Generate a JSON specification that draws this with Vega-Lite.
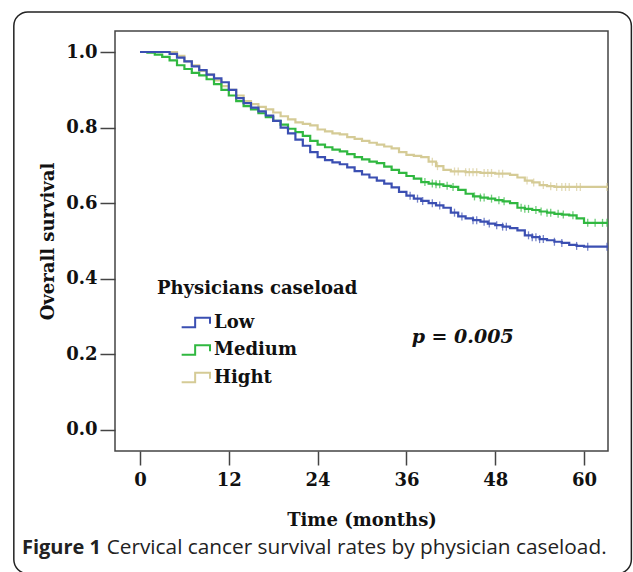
{
  "$schema": "https://vega.github.io/schema/vega-lite/v6.json",
  "width": 493,
  "height": 420,
  "autosize": {"type": "none"},
  "padding": {"left": 115, "top": 31, "right": 25, "bottom": 121},
  "background": "white",
  "config": {
    "view": {"stroke": "#444", "strokeWidth": 1.5},
    "axis": {"grid": false, "domain": false, "tickColor": "#444", "tickWidth": 1.5,
      "labelFont": "DejaVu Serif", "labelFontWeight": "bold", "labelFontSize": 18, "labelColor": "#111",
      "titleFont": "DejaVu Serif", "titleFontWeight": "bold", "titleFontSize": 18, "titleColor": "#111"}
  },
  "datasets": {
    "curves": [
      {"g":"Hight","t":0,"s":1.0},{"g":"Hight","t":4,"s":1.0},{"g":"Hight","t":5,"s":0.99},{"g":"Hight","t":6,"s":0.975},{"g":"Hight","t":7,"s":0.965},{"g":"Hight","t":8,"s":0.95},{"g":"Hight","t":9,"s":0.94},{"g":"Hight","t":10,"s":0.925},{"g":"Hight","t":11,"s":0.91},{"g":"Hight","t":12,"s":0.9},{"g":"Hight","t":13,"s":0.885},{"g":"Hight","t":14,"s":0.87},{"g":"Hight","t":15,"s":0.862},{"g":"Hight","t":16,"s":0.855},{"g":"Hight","t":17,"s":0.848},{"g":"Hight","t":18,"s":0.84},{"g":"Hight","t":19,"s":0.83},{"g":"Hight","t":20,"s":0.822},{"g":"Hight","t":21,"s":0.814},{"g":"Hight","t":22,"s":0.81},{"g":"Hight","t":23,"s":0.806},{"g":"Hight","t":24,"s":0.795},{"g":"Hight","t":25,"s":0.79},{"g":"Hight","t":26,"s":0.785},{"g":"Hight","t":27,"s":0.782},{"g":"Hight","t":28,"s":0.775},{"g":"Hight","t":29,"s":0.77},{"g":"Hight","t":30,"s":0.765},{"g":"Hight","t":31,"s":0.76},{"g":"Hight","t":32,"s":0.755},{"g":"Hight","t":33,"s":0.75},{"g":"Hight","t":34,"s":0.745},{"g":"Hight","t":35,"s":0.735},{"g":"Hight","t":36,"s":0.728},{"g":"Hight","t":37,"s":0.725},{"g":"Hight","t":38,"s":0.722},{"g":"Hight","t":39,"s":0.71},{"g":"Hight","t":40,"s":0.698},{"g":"Hight","t":41,"s":0.688},{"g":"Hight","t":42,"s":0.684},{"g":"Hight","t":44,"s":0.682},{"g":"Hight","t":46,"s":0.68},{"g":"Hight","t":48,"s":0.678},{"g":"Hight","t":50,"s":0.675},{"g":"Hight","t":51,"s":0.668},{"g":"Hight","t":52,"s":0.66},{"g":"Hight","t":53,"s":0.655},{"g":"Hight","t":54,"s":0.648},{"g":"Hight","t":55,"s":0.645},{"g":"Hight","t":56,"s":0.643},{"g":"Hight","t":63.24,"s":0.643},
      {"g":"Medium","t":0,"s":1.0},{"g":"Medium","t":1,"s":0.998},{"g":"Medium","t":2,"s":0.993},{"g":"Medium","t":3,"s":0.987},{"g":"Medium","t":4,"s":0.978},{"g":"Medium","t":5,"s":0.965},{"g":"Medium","t":6,"s":0.955},{"g":"Medium","t":7,"s":0.945},{"g":"Medium","t":8,"s":0.938},{"g":"Medium","t":9,"s":0.928},{"g":"Medium","t":10,"s":0.915},{"g":"Medium","t":11,"s":0.9},{"g":"Medium","t":12,"s":0.885},{"g":"Medium","t":13,"s":0.87},{"g":"Medium","t":14,"s":0.857},{"g":"Medium","t":15,"s":0.848},{"g":"Medium","t":16,"s":0.838},{"g":"Medium","t":17,"s":0.828},{"g":"Medium","t":18,"s":0.818},{"g":"Medium","t":19,"s":0.808},{"g":"Medium","t":20,"s":0.797},{"g":"Medium","t":21,"s":0.788},{"g":"Medium","t":22,"s":0.778},{"g":"Medium","t":23,"s":0.765},{"g":"Medium","t":24,"s":0.755},{"g":"Medium","t":25,"s":0.748},{"g":"Medium","t":26,"s":0.742},{"g":"Medium","t":27,"s":0.737},{"g":"Medium","t":28,"s":0.73},{"g":"Medium","t":29,"s":0.722},{"g":"Medium","t":30,"s":0.716},{"g":"Medium","t":31,"s":0.71},{"g":"Medium","t":32,"s":0.706},{"g":"Medium","t":33,"s":0.697},{"g":"Medium","t":34,"s":0.688},{"g":"Medium","t":35,"s":0.68},{"g":"Medium","t":36,"s":0.672},{"g":"Medium","t":37,"s":0.665},{"g":"Medium","t":38,"s":0.656},{"g":"Medium","t":39,"s":0.652},{"g":"Medium","t":40,"s":0.65},{"g":"Medium","t":41,"s":0.646},{"g":"Medium","t":42,"s":0.643},{"g":"Medium","t":43,"s":0.635},{"g":"Medium","t":44,"s":0.625},{"g":"Medium","t":45,"s":0.618},{"g":"Medium","t":46,"s":0.615},{"g":"Medium","t":47,"s":0.612},{"g":"Medium","t":48,"s":0.608},{"g":"Medium","t":49,"s":0.605},{"g":"Medium","t":50,"s":0.6},{"g":"Medium","t":51,"s":0.588},{"g":"Medium","t":52,"s":0.585},{"g":"Medium","t":53,"s":0.582},{"g":"Medium","t":54,"s":0.578},{"g":"Medium","t":55,"s":0.575},{"g":"Medium","t":56,"s":0.572},{"g":"Medium","t":57,"s":0.57},{"g":"Medium","t":58,"s":0.568},{"g":"Medium","t":59,"s":0.56},{"g":"Medium","t":60,"s":0.548},{"g":"Medium","t":63.24,"s":0.548},
      {"g":"Low","t":0,"s":1.0},{"g":"Low","t":3,"s":1.0},{"g":"Low","t":4,"s":0.995},{"g":"Low","t":5,"s":0.985},{"g":"Low","t":6,"s":0.975},{"g":"Low","t":7,"s":0.962},{"g":"Low","t":8,"s":0.952},{"g":"Low","t":9,"s":0.94},{"g":"Low","t":10,"s":0.93},{"g":"Low","t":11,"s":0.92},{"g":"Low","t":12,"s":0.9},{"g":"Low","t":13,"s":0.878},{"g":"Low","t":14,"s":0.865},{"g":"Low","t":15,"s":0.853},{"g":"Low","t":16,"s":0.843},{"g":"Low","t":17,"s":0.832},{"g":"Low","t":18,"s":0.818},{"g":"Low","t":19,"s":0.8},{"g":"Low","t":20,"s":0.785},{"g":"Low","t":21,"s":0.768},{"g":"Low","t":22,"s":0.752},{"g":"Low","t":23,"s":0.735},{"g":"Low","t":24,"s":0.722},{"g":"Low","t":25,"s":0.714},{"g":"Low","t":26,"s":0.708},{"g":"Low","t":27,"s":0.703},{"g":"Low","t":28,"s":0.695},{"g":"Low","t":29,"s":0.685},{"g":"Low","t":30,"s":0.676},{"g":"Low","t":31,"s":0.668},{"g":"Low","t":32,"s":0.66},{"g":"Low","t":33,"s":0.652},{"g":"Low","t":34,"s":0.642},{"g":"Low","t":35,"s":0.63},{"g":"Low","t":36,"s":0.62},{"g":"Low","t":37,"s":0.612},{"g":"Low","t":38,"s":0.606},{"g":"Low","t":39,"s":0.6},{"g":"Low","t":40,"s":0.594},{"g":"Low","t":41,"s":0.588},{"g":"Low","t":42,"s":0.575},{"g":"Low","t":43,"s":0.565},{"g":"Low","t":44,"s":0.56},{"g":"Low","t":45,"s":0.555},{"g":"Low","t":46,"s":0.551},{"g":"Low","t":47,"s":0.546},{"g":"Low","t":48,"s":0.542},{"g":"Low","t":49,"s":0.538},{"g":"Low","t":50,"s":0.534},{"g":"Low","t":51,"s":0.528},{"g":"Low","t":52,"s":0.515},{"g":"Low","t":53,"s":0.51},{"g":"Low","t":54,"s":0.505},{"g":"Low","t":55,"s":0.502},{"g":"Low","t":56,"s":0.498},{"g":"Low","t":57,"s":0.495},{"g":"Low","t":58,"s":0.49},{"g":"Low","t":59,"s":0.487},{"g":"Low","t":60,"s":0.485},{"g":"Low","t":63.24,"s":0.485}
    ],
    "censor": [
      {"g":"Hight","t":39.5,"s":0.71},{"g":"Hight","t":40.2,"s":0.698},{"g":"Hight","t":42.5,"s":0.684},{"g":"Hight","t":43,"s":0.684},{"g":"Hight","t":44,"s":0.682},{"g":"Hight","t":44.5,"s":0.682},{"g":"Hight","t":45,"s":0.682},{"g":"Hight","t":45.5,"s":0.682},{"g":"Hight","t":46.5,"s":0.68},{"g":"Hight","t":47,"s":0.68},{"g":"Hight","t":47.5,"s":0.68},{"g":"Hight","t":48.5,"s":0.678},{"g":"Hight","t":49,"s":0.678},{"g":"Hight","t":52.3,"s":0.66},{"g":"Hight","t":53.2,"s":0.655},{"g":"Hight","t":54.5,"s":0.648},{"g":"Hight","t":55.5,"s":0.645},{"g":"Hight","t":56.3,"s":0.643},{"g":"Hight","t":57,"s":0.643},{"g":"Hight","t":57.5,"s":0.643},{"g":"Hight","t":58,"s":0.643},{"g":"Hight","t":59,"s":0.643},{"g":"Hight","t":59.5,"s":0.643},{"g":"Hight","t":63.1,"s":0.643},
      {"g":"Medium","t":38.5,"s":0.656},{"g":"Medium","t":39.5,"s":0.652},{"g":"Medium","t":40,"s":0.65},{"g":"Medium","t":40.5,"s":0.65},{"g":"Medium","t":41.5,"s":0.646},{"g":"Medium","t":42.3,"s":0.643},{"g":"Medium","t":45.2,"s":0.618},{"g":"Medium","t":46,"s":0.615},{"g":"Medium","t":46.5,"s":0.615},{"g":"Medium","t":47.5,"s":0.612},{"g":"Medium","t":48.5,"s":0.608},{"g":"Medium","t":49.2,"s":0.605},{"g":"Medium","t":51.5,"s":0.588},{"g":"Medium","t":52,"s":0.585},{"g":"Medium","t":52.5,"s":0.585},{"g":"Medium","t":53.5,"s":0.582},{"g":"Medium","t":54.2,"s":0.578},{"g":"Medium","t":55,"s":0.575},{"g":"Medium","t":55.5,"s":0.575},{"g":"Medium","t":56.5,"s":0.572},{"g":"Medium","t":57.2,"s":0.57},{"g":"Medium","t":58.5,"s":0.568},{"g":"Medium","t":60.5,"s":0.548},{"g":"Medium","t":61.5,"s":0.548},{"g":"Medium","t":62.5,"s":0.548},{"g":"Medium","t":63.1,"s":0.548},
      {"g":"Low","t":36.5,"s":0.62},{"g":"Low","t":37.5,"s":0.612},{"g":"Low","t":38.2,"s":0.606},{"g":"Low","t":39.5,"s":0.6},{"g":"Low","t":40.5,"s":0.594},{"g":"Low","t":42.5,"s":0.575},{"g":"Low","t":43.5,"s":0.565},{"g":"Low","t":45,"s":0.555},{"g":"Low","t":45.5,"s":0.555},{"g":"Low","t":46.5,"s":0.551},{"g":"Low","t":47.2,"s":0.546},{"g":"Low","t":48.2,"s":0.542},{"g":"Low","t":49,"s":0.538},{"g":"Low","t":49.5,"s":0.538},{"g":"Low","t":52.5,"s":0.515},{"g":"Low","t":53,"s":0.51},{"g":"Low","t":53.5,"s":0.51},{"g":"Low","t":54,"s":0.505},{"g":"Low","t":54.5,"s":0.505},{"g":"Low","t":56,"s":0.498},{"g":"Low","t":57,"s":0.495},{"g":"Low","t":59,"s":0.487},{"g":"Low","t":60.5,"s":0.485},{"g":"Low","t":63.1,"s":0.485}
    ],
    "notes": [
      {"label":"p = 0.005","t":43.6,"s":0.246},
      {"label":"Figure 1","t":-15.95,"s":-0.312},
      {"label":"Cervical cancer survival rates by physician caseload.","t":-4.5,"s":-0.312}
    ]
  },
  "layer": [
    {
      "data": {"values": [{}]},
      "mark": {"type": "rect", "clip": false, "fill": null, "fillOpacity": 0, "stroke": "#222", "strokeWidth": 1.5, "cornerRadius": 14},
      "encoding": {
        "x": {"datum": -17.05, "type": "quantitative", "scale": {"domain": [-3.378, 63.24], "nice": false, "zero": false}},
        "x2": {"datum": 66.4},
        "y": {"datum": 1.106, "type": "quantitative"},
        "y2": {"datum": -0.38}
      }
    },
    {
      "data": {"name": "curves"},
      "mark": {"type": "line", "interpolate": "step-after", "strokeWidth": 2.2},
      "encoding": {
        "x": {"field": "t", "type": "quantitative", "scale": {"domain": [-3.378, 63.24], "nice": false, "zero": false},
          "axis": {"values": [0, 12, 24, 36, 48, 60], "tickSize": 14, "labelPadding": 6, "title": "Time (months)", "titlePadding": 22}},
        "y": {"field": "s", "type": "quantitative", "scale": {"domain": [-0.0556, 1.0556], "nice": false, "zero": false},
          "axis": {"values": [0, 0.2, 0.4, 0.6, 0.8, 1.0], "format": ".1f", "tickSize": 15, "labelPadding": 3, "title": "Overall survival", "titlePadding": 8}},
        "color": {"field": "g", "type": "nominal",
          "scale": {"domain": ["Low", "Medium", "Hight"], "range": ["#3b4fb2", "#30b840", "#d5cb96"]},
          "legend": {"orient": "none", "legendX": 42, "legendY": 249, "title": "Physicians caseload", "titleLimit": 400,
            "titleFont": "DejaVu Serif", "titleFontSize": 18, "titleFontWeight": "bold", "titleColor": "#111", "titlePadding": 10,
            "labelFont": "DejaVu Serif", "labelFontSize": 18, "labelFontWeight": "bold", "labelColor": "#111", "labelLimit": 300,
            "symbolType": "M -1.1 0.35 H -0.1 V -0.35 H 1.0 V 0.1", "symbolSize": 729, "symbolStrokeWidth": 2,
            "symbolOffset": 25, "labelOffset": 3, "rowPadding": 3.5,
            "encode": {"symbols": {"update": {"fill": {"value": "transparent"}, "fillOpacity": {"value": 0}}}}}}
      }
    },
    {
      "data": {"name": "censor"},
      "mark": {"type": "tick", "orient": "vertical", "size": 8, "thickness": 1.3},
      "encoding": {
        "x": {"field": "t", "type": "quantitative"},
        "y": {"field": "s", "type": "quantitative"},
        "color": {"field": "g", "type": "nominal"}
      }
    },
    {
      "data": {"name": "notes"},
      "transform": [{"filter": "datum.label === 'p = 0.005'"}],
      "mark": {"type": "text", "font": "DejaVu Serif", "fontSize": 19, "fontWeight": "bold", "fontStyle": "italic", "color": "#111", "align": "center", "baseline": "middle"},
      "encoding": {
        "x": {"field": "t", "type": "quantitative"},
        "y": {"field": "s", "type": "quantitative"},
        "text": {"field": "label"}
      }
    },
    {
      "data": {"name": "notes"},
      "transform": [{"filter": "datum.label === 'Figure 1'"}],
      "mark": {"type": "text", "clip": false, "font": "Open Sans", "fontSize": 20, "fontWeight": "bold", "color": "#222", "align": "left", "baseline": "middle"},
      "encoding": {
        "x": {"field": "t", "type": "quantitative"},
        "y": {"field": "s", "type": "quantitative"},
        "text": {"field": "label"}
      }
    },
    {
      "data": {"name": "notes"},
      "transform": [{"filter": "datum.label !== 'Figure 1' && datum.label !== 'p = 0.005'"}],
      "mark": {"type": "text", "clip": false, "font": "Open Sans", "fontSize": 20.8, "color": "#222", "align": "left", "baseline": "middle"},
      "encoding": {
        "x": {"field": "t", "type": "quantitative"},
        "y": {"field": "s", "type": "quantitative"},
        "text": {"field": "label"}
      }
    }
  ]
}
